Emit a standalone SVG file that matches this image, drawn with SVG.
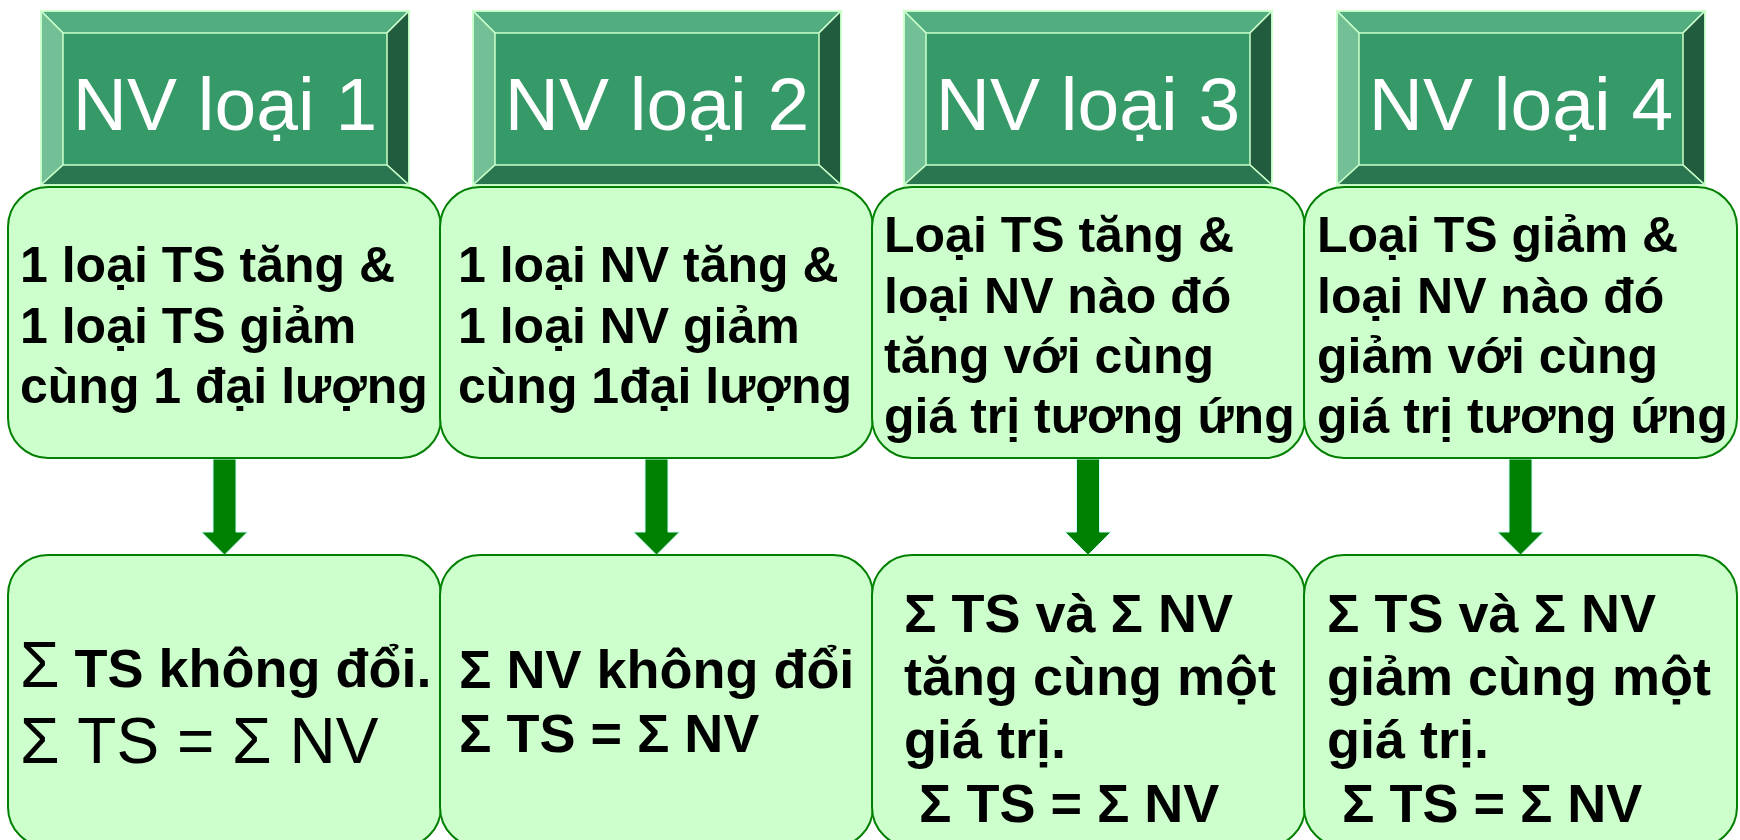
<svg xmlns="http://www.w3.org/2000/svg" xmlns:xlink="http://www.w3.org/1999/xlink" width="1740" height="840" viewBox="0 0 1740 840">
<style>
.box{fill:#ccffcc;stroke:#007f00;stroke-width:2}
.hd{font-family:"Liberation Sans",Arial,sans-serif;font-size:75px;fill:#ffffff;text-anchor:middle}
.t{font-family:"Liberation Sans",Arial,sans-serif;font-weight:bold;font-size:50px;fill:#000}
.b{font-family:"Liberation Sans",Arial,sans-serif;font-weight:bold;font-size:54px;fill:#000}
.r{font-family:"Liberation Sans",Arial,sans-serif;font-weight:normal;font-size:64px;fill:#000}
.arr{fill:#008000;stroke:#ccffff;stroke-width:1}
.bev{stroke:#ccffcc;stroke-width:1.5;stroke-linejoin:miter}
</style>
<defs>
<g id="hdr">
<rect x="0" y="0" width="368" height="174" fill="#359a67"/>
<polygon class="bev" points="0,0 368,0 346,22 22,22" fill="#52ad80"/>
<polygon class="bev" points="0,0 22,22 22,154 0,174" fill="#74c096"/>
<polygon class="bev" points="368,0 368,174 346,154 346,22" fill="#205c3d"/>
<polygon class="bev" points="0,174 22,154 346,154 368,174" fill="#2a7650"/>
<rect x="0" y="0" width="368" height="174" fill="none" stroke="#ccffcc" stroke-width="1.5"/>
</g>
</defs>

<g id="connectors">
<polygon class="arr" points="213,459 236,459 236,532 247.5,532 224.5,555 201.5,532 213,532"/>
<polygon class="arr" points="645,459 668,459 668,532 679.5,532 656.5,555 633.5,532 645,532"/>
<polygon class="arr" points="1076.5,459 1099.5,459 1099.5,532 1111,532 1088,555 1065,532 1076.5,532"/>
<polygon class="arr" points="1509,459 1532,459 1532,532 1543.5,532 1520.5,555 1497.5,532 1509,532"/>
</g>

<g id="header1"><use xlink:href="#hdr" x="41" y="11"/><text class="hd" x="225" y="130">NV loại 1</text></g>
<g id="header2"><use xlink:href="#hdr" x="473" y="11"/><text class="hd" x="657" y="130">NV loại 2</text></g>
<g id="header3"><use xlink:href="#hdr" x="904" y="11"/><text class="hd" x="1088" y="130">NV loại 3</text></g>
<g id="header4"><use xlink:href="#hdr" x="1337" y="11"/><text class="hd" x="1521" y="130">NV loại 4</text></g>

<g id="desc1">
<rect class="box" x="8" y="187" width="433" height="271" rx="40"/>
<text class="t" x="20" y="282">1 loại TS tăng &amp;</text>
<text class="t" x="20" y="343">1 loại TS giảm</text>
<text class="t" x="20" y="403">cùng 1 đại lượng</text>
</g>
<g id="desc2">
<rect class="box" x="440" y="187" width="433" height="271" rx="40"/>
<text class="t" x="458" y="282">1 loại NV tăng &amp;</text>
<text class="t" x="458" y="343">1 loại NV giảm</text>
<text class="t" x="458" y="403">cùng 1đại lượng</text>
</g>
<g id="desc3">
<rect class="box" x="872" y="187" width="433" height="271" rx="40"/>
<text class="t" x="884" y="252">Loại TS tăng &amp;</text>
<text class="t" x="884" y="313">loại NV nào đó</text>
<text class="t" x="884" y="373">tăng với cùng</text>
<text class="t" x="884" y="433">giá trị tương ứng</text>
</g>
<g id="desc4">
<rect class="box" x="1304" y="187" width="433" height="271" rx="40"/>
<text class="t" x="1317" y="252">Loại TS giảm &amp;</text>
<text class="t" x="1317" y="313">loại NV nào đó</text>
<text class="t" x="1317" y="373">giảm với cùng</text>
<text class="t" x="1317" y="433">giá trị tương ứng</text>
</g>

<g id="result1">
<rect class="box" x="8" y="555" width="433" height="292" rx="40"/>
<text x="20" y="687"><tspan class="r">Σ</tspan><tspan class="b"> TS không đổi.</tspan></text>
<text class="r" x="20" y="763">Σ TS = Σ NV</text>
</g>
<g id="result2">
<rect class="box" x="440" y="555" width="433" height="292" rx="40"/>
<text class="b" x="459" y="688">Σ NV không đổi</text>
<text class="b" x="459" y="752">Σ TS = Σ NV</text>
</g>
<g id="result3">
<rect class="box" x="872" y="555" width="433" height="292" rx="40"/>
<text class="b" x="904" y="632">Σ TS và Σ NV</text>
<text class="b" x="904" y="695">tăng cùng một</text>
<text class="b" x="904" y="758">giá trị.</text>
<text class="b" x="904" y="822" xml:space="preserve"> Σ TS = Σ NV</text>
</g>
<g id="result4">
<rect class="box" x="1304" y="555" width="433" height="292" rx="40"/>
<text class="b" x="1327" y="632">Σ TS và Σ NV</text>
<text class="b" x="1327" y="695">giảm cùng một</text>
<text class="b" x="1327" y="758">giá trị.</text>
<text class="b" x="1327" y="822" xml:space="preserve"> Σ TS = Σ NV</text>
</g>
</svg>
